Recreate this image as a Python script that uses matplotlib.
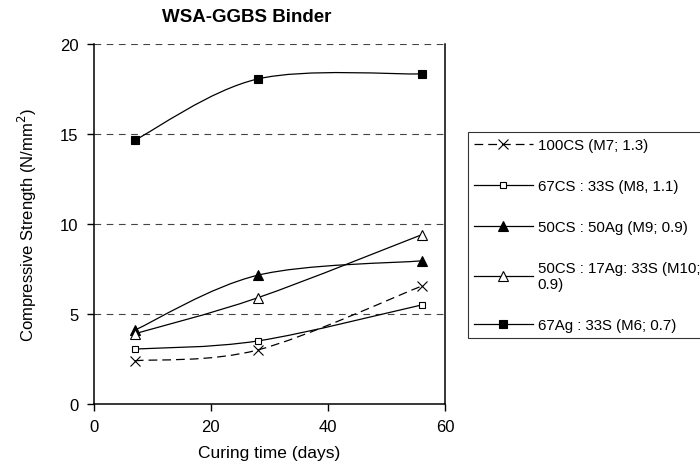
import numpy as np
import matplotlib.pyplot as plt
from matplotlib.path import Path
from matplotlib.patches import PathPatch
from matplotlib.lines import Line2D

plt.rcParams['font.family'] = ['Liberation Sans', 'DejaVu Sans']

# data
days = [7, 28, 56]
cs100 = [2.4, 3.0, 6.55]
cs67_s33 = [3.05, 3.5, 5.5]
cs50_ag50 = [4.1, 7.15, 7.95]
cs50_ag17_s33 = [3.9, 5.9, 9.4]
ag67_s33 = [14.65, 18.05, 18.33]

labels = ['100CS (M7; 1.3)', '67CS : 33S (M8, 1.1)', '50CS : 50Ag (M9; 0.9)',
          '50CS : 17Ag: 33S (M10;\n0.9)', '67Ag : 33S (M6; 0.7)']


def smooth_path(x, y):
    # excel style smoothed line: cubic bezier through the points
    x = np.asarray(x, float)
    y = np.asarray(y, float)
    px = np.concatenate([[x[0]], x, [x[-1]]])
    py = np.concatenate([[y[0]], y, [y[-1]]])
    verts = [(x[0], y[0])]
    codes = [Path.MOVETO]
    for i in range(1, len(x)):
        c1 = (px[i] + (px[i + 1] - px[i - 1]) / 6, py[i] + (py[i + 1] - py[i - 1]) / 6)
        c2 = (px[i + 1] - (px[i + 2] - px[i]) / 6, py[i + 1] - (py[i + 2] - py[i]) / 6)
        verts += [c1, c2, (x[i], y[i])]
        codes += [Path.CURVE4] * 3
    return Path(verts, codes)


fig = plt.figure(figsize=(7, 4.77), dpi=100)
ax = fig.add_axes([0.134, 0.151, 0.502, 0.755])

series = [
    (cs100, dict(marker='x', ms=6.5, mfc='none', mec='k', mew=0.8), (0, (7, 4))),
    (cs67_s33, dict(marker='s', ms=5, mfc='white', mec='k', mew=0.8), '-'),
    (cs50_ag50, dict(marker='^', ms=7, mfc='k', mec='k', mew=0.8), '-'),
    (cs50_ag17_s33, dict(marker='^', ms=7, mfc='white', mec='k', mew=0.8), '-'),
    (ag67_s33, dict(marker='s', ms=5.5, mfc='k', mec='k', mew=0.8), '-'),
]

handles = []
for (vals, mk, ls), lab in zip(series, labels):
    patch = PathPatch(smooth_path(days, vals), fill=False, ec='k', lw=0.9, ls=ls, zorder=2)
    ax.add_patch(patch)
    ax.plot(days, vals, ls='none', zorder=3, **mk)
    handles.append(Line2D([], [], color='k', lw=0.9, ls=ls, **mk))

ax.set_xlim(0, 60)
ax.set_ylim(0, 20)
ax.set_xticks([0, 20, 40, 60])
ax.set_yticks([0, 5, 10, 15, 20])
for v in [5, 10, 15, 20]:
    ax.axhline(v, color='#444444', lw=0.8, ls=(0, (6, 5)), zorder=1)
ax.spines['top'].set_visible(False)
ax.spines['left'].set_linewidth(1.1)
ax.spines['bottom'].set_linewidth(1.1)
ax.spines['right'].set_linewidth(1.1)
ax.tick_params(direction='out', length=5, width=1, labelsize=12, pad=6)

fig.text(247 / 700, 1 - 18 / 477, 'WSA-GGBS Binder', fontsize=13.5, fontweight='bold',
         ha='center', va='center')
ax.set_xlabel('Curing time (days)', fontsize=12.5, labelpad=8)
ax.set_ylabel('Compressive Strength (N/mm$^2$)', fontsize=12, labelpad=15)

leg = fig.legend(handles=handles, labels=labels, loc='upper left',
                 bbox_to_anchor=(468 / 700, 1 - 133 / 477), bbox_transform=fig.transFigure,
                 frameon=True, fancybox=False, edgecolor='k', fontsize=10.8,
                 handlelength=3.9, handletextpad=0.35, labelspacing=1.8,
                 borderpad=0.4, borderaxespad=0)
leg.get_frame().set_linewidth(0.8)

plt.savefig('out.png', dpi=100)
